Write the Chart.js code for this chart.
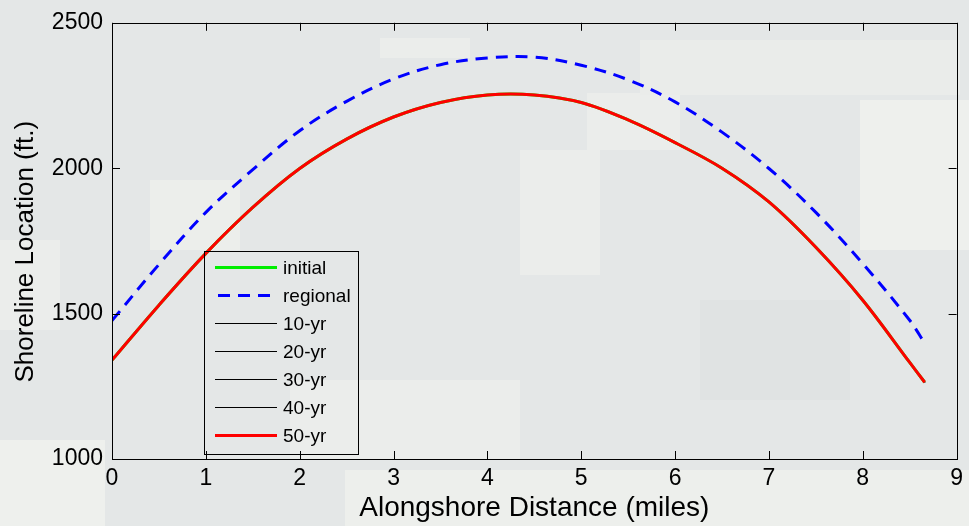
<!DOCTYPE html>
<html>
<head>
<meta charset="utf-8">
<script src="https://cdn.jsdelivr.net/npm/chart.js@4.4.0/dist/chart.umd.min.js"></script>
<style>
  html, body { margin: 0; padding: 0; background: #e4e7e7; }
  #wrap { width: 969px; height: 526px; }
</style>
</head>
<body>
<div id="wrap"><canvas id="shoreline-chart" width="969" height="526"></canvas></div>
<script>
'use strict';

// --- Data (miles, ft.) ---
const distanceMiles = [0, 0.5, 1, 1.5, 2, 2.5, 3, 3.5, 4, 4.5, 5, 5.5, 6, 6.5, 7, 7.5, 8, 8.5, 8.66];
const regionalShore = [1476, 1669, 1848, 1995, 2129, 2230, 2307, 2356, 2379, 2382, 2354, 2304, 2228, 2124, 1999, 1848, 1672, 1477, 1398];
const yr50Shore     = [1340, 1529, 1707, 1865, 1999, 2100, 2176, 2226, 2252, 2252, 2226, 2166, 2088, 2000, 1884, 1728, 1546, 1332, 1264];
// initial and 10..40-yr lines sit right under the 50-yr line in the picture
const initialShore = yr50Shore;
const yr10Shore = yr50Shore;
const yr20Shore = yr50Shore;
const yr30Shore = yr50Shore;
const yr40Shore = yr50Shore;

const xTicks = [0, 1, 2, 3, 4, 5, 6, 7, 8, 9];
const yTicks = [1000, 1500, 2000, 2500];

const FONT = "'Liberation Sans', Arial, Helvetica, sans-serif";

function pts(ys) {
  return distanceMiles.map((x, i) => ({ x: x, y: ys[i] }));
}

// --- camouflage-ish backdrop (decoration only) ---
const camoBlocks = [
  ['#eef0ed', 0, 440, 105, 86],
  ['#edefec', 345, 470, 624, 56],
  ['#eceeeb', 150, 180, 90, 70],
  ['#ebedeb', 520, 150, 80, 125],
  ['#eef0ed', 860, 100, 109, 150],
  ['#ebedeb', 587, 93, 93, 57],
  ['#ebedeb', 380, 38, 90, 20],
  ['#ebedeb', 290, 380, 230, 80],
  ['#ebedeb', 0, 240, 60, 90],
  ['#eaecea', 640, 40, 320, 55],
  ['#e0e3e3', 700, 300, 150, 100]
];

const camoPlugin = {
  id: 'camo',
  beforeDraw(chart) {
    const ctx = chart.ctx;
    ctx.save();
    ctx.fillStyle = '#e4e7e7';
    ctx.fillRect(0, 0, chart.width, chart.height);
    camoBlocks.forEach(b => {
      ctx.fillStyle = b[0];
      ctx.fillRect(b[1], b[2], b[3], b[4]);
    });
    ctx.restore();
  }
};

// --- box + inward ticks, MATLAB style ---
const boxPlugin = {
  id: 'axesBox',
  afterDraw(chart) {
    const ctx = chart.ctx;
    const a = chart.chartArea;
    const xs = chart.scales.x, ys = chart.scales.y;
    const tl = 8;
    ctx.save();
    ctx.strokeStyle = '#000';
    ctx.lineWidth = 1;
    ctx.beginPath();
    xTicks.forEach(v => {
      const px = Math.round(xs.getPixelForValue(v)) + 0.5;
      ctx.moveTo(px, a.bottom); ctx.lineTo(px, a.bottom - tl);
      ctx.moveTo(px, a.top); ctx.lineTo(px, a.top + tl);
    });
    yTicks.forEach(v => {
      const py = Math.round(ys.getPixelForValue(v)) + 0.5;
      ctx.moveTo(a.left, py); ctx.lineTo(a.left + tl, py);
      ctx.moveTo(a.right, py); ctx.lineTo(a.right - tl, py);
    });
    ctx.stroke();
    ctx.strokeRect(Math.round(a.left) + 0.5, Math.round(a.top) + 0.5,
      Math.round(a.right - a.left), Math.round(a.bottom - a.top));
    ctx.restore();
  }
};

// --- legend box inside the axes ---
const legendPlugin = {
  id: 'insideLegend',
  afterDraw(chart) {
    const ctx = chart.ctx;
    const a = chart.chartArea;
    const left = Math.round(a.left + 92), top = Math.round(a.top + 228);
    const w = 154, h = 203, rowH = 28;
    ctx.save();
    ctx.strokeStyle = '#000';
    ctx.lineWidth = 1;
    ctx.strokeRect(left + 0.5, top + 0.5, w, h);
    ctx.font = '19px ' + FONT;
    ctx.textBaseline = 'middle';
    chart.data.datasets.forEach((ds, i) => {
      let y = top + 16 + i * rowH;
      if (ds.borderWidth % 2 === 1) y += 0.5;
      ctx.beginPath();
      ctx.strokeStyle = ds.borderColor;
      ctx.lineWidth = ds.borderWidth;
      ctx.setLineDash(ds.borderDash || []);
      ctx.moveTo(left + (ds.borderDash ? 14 : 11), y);
      ctx.lineTo(left + 73, y);
      ctx.stroke();
      ctx.setLineDash([]);
      ctx.fillStyle = '#000';
      ctx.fillText(ds.label, left + 79, y + 1);
    });
    ctx.restore();
  }
};

const lineDefaults = { pointRadius: 0, fill: false, tension: 0.35 };

new Chart(document.getElementById('shoreline-chart').getContext('2d'), {
  type: 'line',
  data: {
    datasets: [
      Object.assign({ label: 'initial', data: pts(initialShore), borderColor: '#00ee00', borderWidth: 3, order: 6 }, lineDefaults),
      Object.assign({ label: 'regional', data: pts(regionalShore), borderColor: '#0000ff', borderWidth: 3, borderDash: [12, 8], order: 1 }, lineDefaults),
      Object.assign({ label: '10-yr', data: pts(yr10Shore), borderColor: '#000000', borderWidth: 1, order: 5 }, lineDefaults),
      Object.assign({ label: '20-yr', data: pts(yr20Shore), borderColor: '#000000', borderWidth: 1, order: 4 }, lineDefaults),
      Object.assign({ label: '30-yr', data: pts(yr30Shore), borderColor: '#000000', borderWidth: 1, order: 3 }, lineDefaults),
      Object.assign({ label: '40-yr', data: pts(yr40Shore), borderColor: '#000000', borderWidth: 1, order: 2 }, lineDefaults),
      Object.assign({ label: '50-yr', data: pts(yr50Shore), borderColor: '#ff0000', borderWidth: 3, order: 0 }, lineDefaults)
    ]
  },
  options: {
    responsive: false,
    animation: false,
    layout: { padding: { left: 0, right: 8, top: 22, bottom: 0 } },
    plugins: { legend: { display: false }, tooltip: { enabled: false } },
    scales: {
      x: {
        type: 'linear',
        min: 0, max: 9,
        afterBuildTicks: s => { s.ticks = xTicks.map(v => ({ value: v })); },
        afterFit: s => { s.height = 67; },
        grid: { display: false, drawTicks: false },
        border: { display: false },
        ticks: { color: '#000', font: { family: FONT, size: 23 }, padding: 6, maxRotation: 0, autoSkip: false,
                 callback: v => String(v) },
        title: { display: true, text: 'Alongshore Distance (miles)', color: '#000', font: { family: FONT, size: 28 }, padding: { top: 0, bottom: 1 } }
      },
      y: {
        min: 1000, max: 2500,
        afterBuildTicks: s => { s.ticks = yTicks.map(v => ({ value: v })); },
        afterFit: s => { s.width = 112; },
        grid: { display: false, drawTicks: false },
        border: { display: false },
        ticks: { color: '#000', font: { family: FONT, size: 23 }, padding: 9, callback: v => String(v) },
        title: { display: true, text: 'Shoreline Location (ft.)\u00a0\u00a0\u00a0', color: '#000', font: { family: FONT, size: 26 }, padding: { top: 10, bottom: 0 } }
      }
    }
  },
  plugins: [camoPlugin, boxPlugin, legendPlugin]
});
</script>
</body>
</html>
